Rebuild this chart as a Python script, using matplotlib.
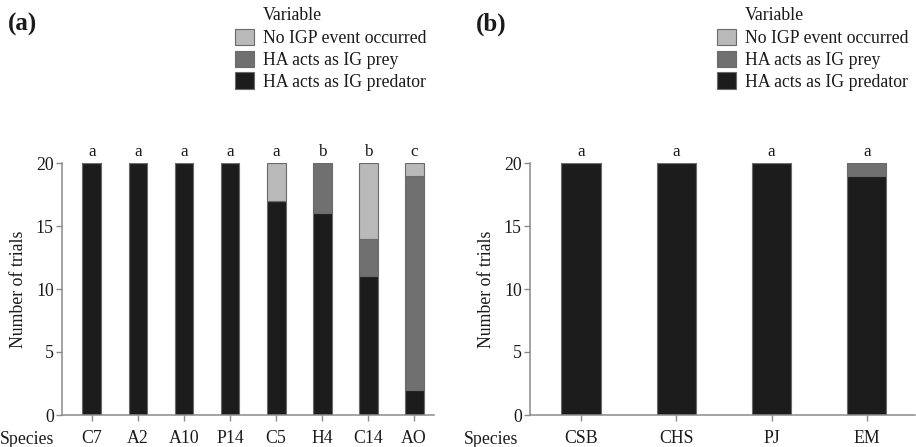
import matplotlib
matplotlib.use("Agg")
import matplotlib.pyplot as plt
from matplotlib.patches import Patch
import numpy as np

plt.rcParams['font.family'] = ['Liberation Serif', 'DejaVu Serif']

# ---- data ----
species_a = ["C7", "A2", "A10", "P14", "C5", "H4", "C14", "AO"]
pred_a = [20, 20, 20, 20, 17, 16, 11, 2]
prey_a = [0, 0, 0, 0, 0, 4, 3, 17]
none_a = [0, 0, 0, 0, 3, 0, 6, 1]
letters_a = ["a", "a", "a", "a", "a", "b", "b", "c"]

species_b = ["CSB", "CHS", "PJ", "EM"]
pred_b = [20, 20, 20, 19]
prey_b = [0, 0, 0, 1]
none_b = [0, 0, 0, 0]
letters_b = ["a", "a", "a", "a"]

series_names = ["No IGP event occurred", "HA acts as IG prey", "HA acts as IG predator"]
yticks = [0, 5, 10, 15, 20]

# ---- style ----
c_pred = "#1c1c1c"
c_prey = "#707070"
c_none = "#b9b9b9"
edge = "#6a6a6a"
spine_c = "#8a8a8a"
txt_c = "#1a1a1a"
FS = 12.8

W, H = 916, 447
fig = plt.figure(figsize=(W / 100, H / 100), dpi=100)


def px_rect(l, r, top, bottom):
    return [l / W, 1 - bottom / H, (r - l) / W, (bottom - top) / H]


def panel(rect, cats, pred, prey, none, letters, xlim, label, leg_x, species_x):
    ax = fig.add_axes(rect)
    x = np.arange(len(cats))
    w = 0.41
    pred = np.array(pred); prey = np.array(prey); none = np.array(none)
    ax.bar(x, pred, w, color=c_pred, edgecolor=edge, linewidth=0.8)
    ax.bar(x, prey, w, bottom=pred, color=c_prey, edgecolor=edge, linewidth=0.8)
    ax.bar(x, none, w, bottom=pred + prey, color=c_none, edgecolor=edge, linewidth=0.8)
    tot = pred + prey + none
    for xi, t, l in zip(x, tot, letters):
        ax.text(xi, t + 0.2, l, ha="center", va="bottom", fontsize=FS - 0.5, color=txt_c)
    ax.set_xlim(*xlim)
    ax.set_ylim(0, 20)
    ax.set_yticks(yticks)
    ax.set_xticks(x)
    ax.set_xticklabels(cats)
    for s in ["top", "right"]:
        ax.spines[s].set_visible(False)
    for s in ["left", "bottom"]:
        ax.spines[s].set_color(spine_c)
        ax.spines[s].set_linewidth(1.1)
    ax.tick_params(axis="both", colors=spine_c, labelcolor=txt_c, labelsize=FS,
                   length=4, width=1.0, pad=2)
    ax.tick_params(axis="x", pad=7)
    ax.set_ylabel("Number of trials", fontsize=FS, color=txt_c, labelpad=6)
    fig.text(species_x / W, 1 - 430.5 / H, "Species", ha="left", va="top",
             fontsize=FS, color=txt_c)
    # panel label
    fig.text(rect[0] - 54 / W, 1 - 24 / H, label, fontsize=18, fontweight="bold",
             ha="left", va="center", color=txt_c)
    # legend
    handles = [Patch(facecolor=c, edgecolor=edge, linewidth=0.8) for c in (c_none, c_prey, c_pred)]
    fig.legend(handles, series_names, loc="upper left",
               bbox_to_anchor=(leg_x / W, 1 - 29 / H), frameon=False,
               fontsize=FS, handlelength=1.07, handleheight=1.02,
               handletextpad=0.5, labelspacing=0.2, borderpad=0, borderaxespad=0,
               labelcolor=txt_c)
    fig.text((leg_x + 28) / W, 1 - 16 / H, "Variable", fontsize=FS, ha="left",
             va="center", color=txt_c)
    return ax


panel(px_rect(62, 434, 163, 415), species_a, pred_a, prey_a, none_a, letters_a,
      (-0.65, 7.43), "(a)", 235, 0)
panel(px_rect(530, 915, 163, 415), species_b, pred_b, prey_b, none_b, letters_b,
      (-0.535, 3.505), "(b)", 717, 464)

fig.savefig("out.png", dpi=100)
